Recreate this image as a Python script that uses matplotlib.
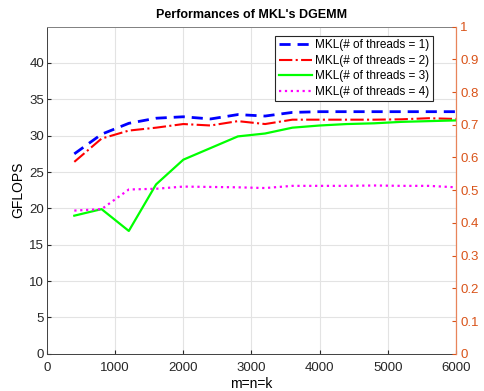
import numpy as np
import matplotlib
matplotlib.use('Agg')
import matplotlib.pyplot as plt

plt.rcParams['font.family'] = ['Liberation Sans', 'DejaVu Sans']

# matrix sizes (m=n=k)
sizes = [400, 800, 1200, 1600, 2000, 2400, 2800, 3200, 3600, 4000, 4400, 4800, 5200, 5600, 6000]

# GFLOPS per thread count
gflops_t1 = [27.5, 30.2, 31.7, 32.4, 32.6, 32.3, 32.9, 32.7, 33.2, 33.3, 33.3, 33.3, 33.3, 33.3, 33.3]
gflops_t2 = [26.4, 29.6, 30.7, 31.1, 31.6, 31.4, 32.0, 31.6, 32.2, 32.2, 32.2, 32.2, 32.25, 32.4, 32.3]
gflops_t3 = [19.0, 19.9, 16.9, 23.3, 26.7, 28.3, 29.9, 30.3, 31.1, 31.4, 31.6, 31.7, 31.9, 32.0, 32.1]
gflops_t4 = [19.7, 19.9, 22.6, 22.7, 23.0, 22.95, 22.9, 22.8, 23.1, 23.1, 23.1, 23.15, 23.1, 23.1, 22.9]

labels = ['MKL(# of threads = 1)', 'MKL(# of threads = 2)',
          'MKL(# of threads = 3)', 'MKL(# of threads = 4)']

fig = plt.figure(figsize=(4.85, 3.91), dpi=100)
ax = fig.add_axes([0.097, 0.095, 0.843, 0.837])

ax.plot(sizes, gflops_t1, color='#0000ff', linestyle=(0, (4, 2.5)), linewidth=2, label=labels[0])
ax.plot(sizes, gflops_t2, color='#ff0000', linestyle='-.', linewidth=1.5, label=labels[1])
ax.plot(sizes, gflops_t3, color='#00ff00', linestyle='-', linewidth=1.6, label=labels[2])
ax.plot(sizes, gflops_t4, color='#ff00ff', linestyle=':', linewidth=1.6, label=labels[3])

ax.set_xlim(0, 6000)
ax.set_ylim(0, 45)
ax.set_yticks(np.arange(0, 45, 5))
ax.set_xticks(np.arange(0, 6001, 1000))
ax.grid(True, color='#e3e3e3', linewidth=0.8)
ax.set_axisbelow(True)

ax.set_title("Performances of MKL's DGEMM", fontsize=9, fontweight='bold', pad=6)
ax.set_xlabel('m=n=k', fontsize=10, labelpad=2)
ax.set_ylabel('GFLOPS', fontsize=10, labelpad=3)

ax.tick_params(labelsize=9.5, colors='#262626', direction='in', length=3, pad=2)
ax.tick_params(axis='x', pad=6)
for side in ['left', 'bottom', 'top']:
    ax.spines[side].set_color('#404040')
    ax.spines[side].set_linewidth(0.7)
ax.spines['top'].set_color('#808080')
ax.spines['right'].set_visible(False)

# right axis in orange
ax2 = ax.twinx()
ax2.set_ylim(0, 1)
ax2.set_yticks(np.arange(0, 1.01, 0.1))
ax2.set_yticklabels(['0'] + [f'{v:.1f}' for v in np.arange(0.1, 0.95, 0.1)] + ['1'])
ax2.tick_params(labelsize=9.5, colors='#d95319', direction='in', length=3, pad=3)
ax2.spines['right'].set_color('#e8845a')
ax2.spines['right'].set_linewidth(0.9)
for side in ['left', 'bottom', 'top']:
    ax2.spines[side].set_visible(False)

leg = ax.legend(loc='upper right', fontsize=8.5, frameon=True, fancybox=False,
                edgecolor='#262626', framealpha=1, handlelength=2.8,
                borderpad=0.3, labelspacing=0.3, handletextpad=0.3,
                borderaxespad=0, bbox_to_anchor=(0.944, 0.972))
leg.get_frame().set_linewidth(0.8)

plt.savefig('out.png', dpi=100)
plt.close()
